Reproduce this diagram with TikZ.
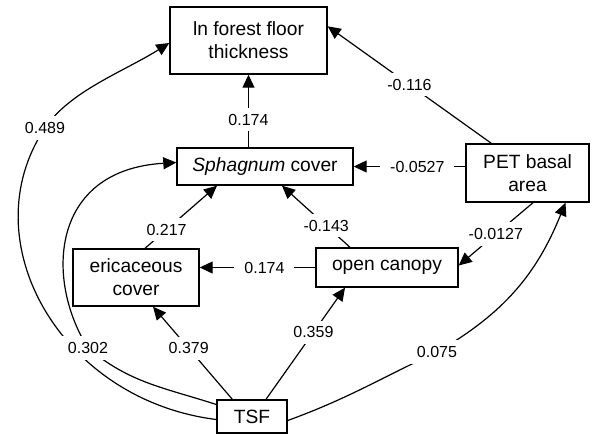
\documentclass[tikz,border=0pt]{standalone}
\usepackage{fontspec}
\setmainfont{Liberation Sans}
\usetikzlibrary{arrows.meta}

\begin{document}
\begin{tikzpicture}[x=0.5pt, y=0.5pt,
    box/.style={draw, line width=0.7pt, align=center, inner sep=0pt, font=\fontsize{9.6}{11.5}\selectfont},
    lbl/.style={fill=white, inner xsep=5pt, inner ysep=3pt, font=\fontsize{8}{9.6}\selectfont},
    arr/.style={line width=0.6pt, -{Triangle[length=6.5pt, width=6pt]}}]
    \useasboundingbox (0,0) rectangle (593,-434);
    % boxes
    \node[box, minimum width=78.5pt, minimum height=33.5pt] (fft) at (248.5,-40.5) {ln forest floor\\thickness};
    \node[box, minimum width=88pt, minimum height=18.5pt] (sph) at (265,-166.5) {\textit{Sphagnum} cover};
    \node[box, minimum width=61.5pt, minimum height=29pt] (pet) at (527.5,-173) {PET basal\\area};
    \node[box, minimum width=63pt, minimum height=28.5pt] (eri) at (136,-277.5) {ericaceous\\cover};
    \node[box, minimum width=71pt, minimum height=19.5pt] (opc) at (387,-267.5) {open canopy};
    \node[box, minimum width=35pt, minimum height=16.5pt] (tsf) at (252,-416.5) {TSF};
    % where the curved paths pass under their labels
    \coordinate (k489) at (45,-128);
    \coordinate (k302) at (88,-348);
    \coordinate (k075) at (437,-352);
    % straight paths
    \draw[arr] (sph.north -| fft.south) -- node[lbl, pos=0.38] {0.174} (fft.south);
    \draw[arr] ([xshift=13pt]pet.north west) -- node[lbl] {-0.116} ([yshift=-10pt]fft.north east);
    \draw[arr] (pet.west |- sph.east) -- node[lbl, pos=0.43] {-0.0527} (sph.east);
    \draw[arr] ([xshift=2.75pt]pet.south) -- node[lbl] {-0.0127} ([yshift=1pt]opc.east);
    \draw[arr] ([xshift=-18.5pt]opc.north) -- node[lbl, pos=0.35] {-0.143} ([xshift=8.5pt]sph.south);
    \draw[arr] (opc.west) -- node[lbl, pos=0.44] {0.174} (opc.west -| eri.east);
    \draw[arr] ([xshift=4.5pt]eri.north) -- node[lbl, pos=0.3] {0.217} ([xshift=-24pt]sph.south);
    \draw[arr] ([xshift=8pt]tsf.north west) -- node[lbl, pos=0.55] {0.379} ([xshift=8.5pt]eri.south);
    \draw[arr] ([xshift=7pt]tsf.north) -- node[lbl, pos=0.6] {0.359} ([xshift=-21pt]opc.south);
    % curved paths from TSF
    \draw[arr] ([yshift=-1.5pt]tsf.west) .. controls (60,-400) and (-30,-240) .. (k489) node[lbl] {0.489}
        .. controls (70,-91) and (123,-72) .. ([yshift=-1.25pt]fft.west);
    \draw[arr] ([yshift=6pt]tsf.west) to[out=162, in=-40] (k302) node[lbl] {0.302}
        .. controls (45,-280) and (50,-170) .. ([yshift=2pt]sph.west);
    \draw[arr] ([yshift=-2pt]tsf.east) to[out=20, in=205] (k075) node[lbl] {0.075}
        to[out=30, in=-112] ([xshift=19pt]pet.south);
\end{tikzpicture}
\end{document}
